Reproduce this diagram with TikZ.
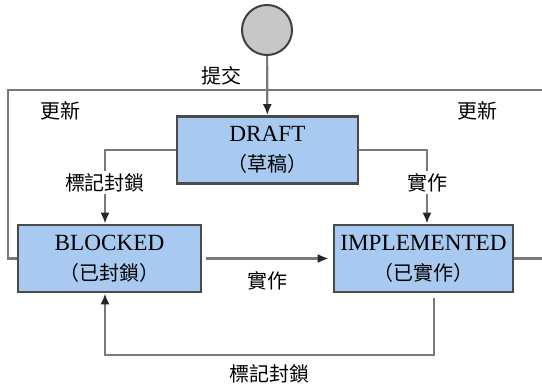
\documentclass[tikz,border=0pt]{standalone}
\usepackage{fontspec}
\setmainfont{Liberation Serif}
\newfontfamily\cjk{Noto Sans CJK TC}
\usetikzlibrary{positioning}
\usetikzlibrary{arrows.meta}
\usetikzlibrary{calc}

\definecolor{boxblue}{HTML}{A8CAF0}
\definecolor{boxline}{HTML}{4A4A4A}
\definecolor{wiregray}{HTML}{7A7A7A}
\newcommand\zh[1]{{\cjk\fontsize{10}{15}\selectfont #1}}

\begin{document}
\begin{tikzpicture}[x=0.5pt,y=-0.5pt,
    state/.style={draw=boxline,line width=1.3pt,fill=boxblue,minimum height=33.5pt,
      inner sep=0pt,align=center,font=\fontsize{11.6}{15}\selectfont},
    wire/.style={draw=wiregray,line width=1.1pt},
    tip/.style={wire,-{Latex[length=5.5pt,width=4.5pt,color=black!85]}},
    tag/.style={font=\cjk\fontsize{10}{12}\selectfont,inner sep=1pt}]
		% Fix the frame
		\clip (0,0) rectangle (542,385);
		\fill[white] (0,0) rectangle (542,385);

		% Define the states
		\node[circle,draw=black!75,line width=1pt,fill=black!22,minimum size=25pt,inner sep=0pt] (start) at (267,30) {};
		\node[state,minimum width=90.5pt] (draft) at (267.5,150) {DRAFT\\\zh{（草稿）}};
		\node[state,minimum width=91.5pt] (blocked) at (109.5,258.5) {BLOCKED\\\zh{（已封鎖）}};
		\node[state,minimum width=89.5pt] (impl) at (423.5,258.5) {IMPLEMENTED\\\zh{（已實作）}};

		% Define the corners of the loops
		\coordinate (ul) at (8,90);
		\coordinate (ur) at (560,90);
		\coordinate (loopr) at (434,355);
		\coordinate (loopl) at (105,355);

		% Draw the update loop
		\draw[wire] (blocked.west) -| (ul) -- (ur);
		\draw[wire] (impl.east) -- (impl.east -| ur);

		% Draw the transitions
		\draw[tip] (start) -- (draft);
		\draw[tip] (draft.west) -| node[pos=0.72,tag,fill=white] {標記封鎖} ([xshift=-2.25pt]blocked.north);
		\draw[tip] (draft.east) -| node[pos=0.72,tag,fill=white] {實作} ([xshift=1.75pt]impl.north);
		\draw[tip,shorten <=2pt,shorten >=2pt] (blocked.east) -- node[below=5pt,tag] {實作} (impl.west);
		\draw[tip] ([xshift=5.25pt,yshift=-2.5pt]impl.south) -- (loopr) -- node[below=3pt,tag] {標記封鎖} (loopl) -- ([xshift=-2.25pt]blocked.south);

		% Free labels
		\foreach \name/\x/\y/\txt in {subm/221/76/提交, updl/60/111/更新, updr/477/111/更新}
		\node[tag] (\name) at (\x,\y) {\txt};
\end{tikzpicture}
\end{document}
